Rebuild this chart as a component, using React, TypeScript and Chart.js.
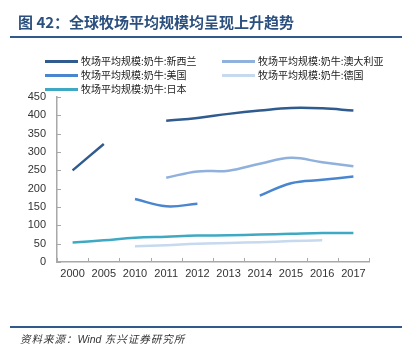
import React, { useEffect, useRef } from "react";
import { Chart, registerables } from "chart.js";

Chart.register(...registerables);

const categories = ["2000", "2005", "2010", "2011", "2012", "2013", "2014", "2015", "2016", "2017"];
const newZealand = [250, 322, null, 385, 393, 404, 413, 420, 419, 413];
const australia = [null, null, null, 230, 247, 249, 268, 284, 272, 261];
const usa = [null, null, 172, 152, 159, null, 181, 215, 224, 233];
const germany = [null, null, 43, 46, 50, 52, 54, 57, 59, null];
const japan = [53, 59, 66, 69, 72, 73, 75, 77, 79, 79];
const yTicks = { min: 0, max: 450, step: 50 };

const seriesNames = [
  "牧场平均规模:奶牛:新西兰",
  "牧场平均规模:奶牛:澳大利亚",
  "牧场平均规模:奶牛:美国",
  "牧场平均规模:奶牛:德国",
  "牧场平均规模:奶牛:日本",
];
const seriesColors = ["#2f5b8f", "#8fb1dc", "#4a86d0", "#c6d9ef", "#3fa9c3"];
const seriesData = [newZealand, australia, usa, germany, japan];

const innerTicks = {
  id: "innerTicks",
  afterDraw(chart: any) {
    const ctx = chart.ctx;
    const x = chart.scales.x;
    const y = chart.scales.y;
    ctx.save();
    ctx.strokeStyle = "#a8a8a8";
    ctx.lineWidth = 1;
    const n = x.ticks.length;
    const w = (x.right - x.left) / n;
    for (let i = 0; i <= n; i++) {
      const px = Math.round(x.left + i * w) + 0.5;
      ctx.beginPath();
      ctx.moveTo(px, y.bottom);
      ctx.lineTo(px, y.bottom - 4);
      ctx.stroke();
    }
    y.ticks.forEach((t: any) => {
      const py = Math.round(y.getPixelForValue(t.value)) + 0.5;
      ctx.beginPath();
      ctx.moveTo(x.left, py);
      ctx.lineTo(x.left + 4, py);
      ctx.stroke();
    });
    ctx.restore();
  },
};

function ChartCanvas() {
  const ref = useRef<HTMLCanvasElement>(null);
  useEffect(() => {
    if (!ref.current) return;
    const chart = new Chart(ref.current, {
      type: "line",
      data: {
        labels: categories,
        datasets: seriesData.map((d, i) => ({
          label: seriesNames[i],
          data: d,
          borderColor: seriesColors[i],
          backgroundColor: seriesColors[i],
          borderWidth: 2.5,
          pointRadius: 0,
          tension: 0.4,
          spanGaps: false,
          fill: false,
        })),
      },
      options: {
        animation: false,
        responsive: false,
        maintainAspectRatio: false,
        layout: { padding: { left: 0, top: 97, right: 49, bottom: 61 } },
        plugins: { legend: { display: false }, tooltip: { enabled: false }, title: { display: false } },
        scales: {
          x: {
            offset: true,
            grid: { display: false, offset: true, drawTicks: false },
            border: { display: true, color: "#a8a8a8", width: 1.5 },
            ticks: {
              color: "#333",
              font: { family: "'Liberation Sans', Arial", size: 11 },
              padding: 5,
              maxRotation: 0,
              autoSkip: false,
            },
            afterFit: (s: any) => {
              s.height = 25;
            },
          },
          y: {
            min: yTicks.min,
            max: yTicks.max,
            grid: { display: false, drawTicks: false },
            border: { display: true, color: "#a8a8a8", width: 1.5 },
            ticks: {
              stepSize: yTicks.step,
              color: "#333",
              font: { family: "'Liberation Sans', Arial", size: 11 },
              padding: 11,
            },
            afterFit: (s: any) => {
              s.width = 57;
            },
          },
        },
      },
      plugins: [innerTicks],
    });
    return () => chart.destroy();
  }, []);
  return <canvas ref={ref} width={418} height={348} style={{ position: "absolute", left: 0, top: 0, width: 418, height: 348 }} />;
}

export default function App() {
  const legendPos = [
    { x: 45, y: 61 },
    { x: 222, y: 61 },
    { x: 45, y: 75 },
    { x: 222, y: 75 },
    { x: 45, y: 89 },
  ];
  return (
    <div style={{ position: "fixed", left: 0, top: 0, width: 418, height: 348, background: "#fff", overflow: "hidden" }}>
      <ChartCanvas />
      <div
        style={{
          position: "absolute",
          left: 18,
          top: 12,
          fontFamily: "'Noto Sans CJK SC', sans-serif",
          fontWeight: 700,
          fontSize: 15,
          lineHeight: "20px",
          color: "#2b4f7e",
          whiteSpace: "nowrap",
        }}
      >
        图 42：全球牧场平均规模均呈现上升趋势
      </div>
      <div style={{ position: "absolute", left: 10, top: 36, width: 392, height: 2, background: "#2f5a8a" }} />
      {seriesNames.map((name, i) => (
        <div key={name} style={{ position: "absolute", left: legendPos[i].x, top: legendPos[i].y - 7, height: 14, display: "flex", alignItems: "center", whiteSpace: "nowrap" }}>
          <div style={{ width: 33, height: 3, background: seriesColors[i], marginRight: 3 }} />
          <span style={{ fontFamily: "'Noto Sans CJK SC', sans-serif", fontSize: 10, color: "#222", lineHeight: "14px" }}>{name}</span>
        </div>
      ))}
      <div style={{ position: "absolute", left: 10, top: 326, width: 392, height: 1.5, background: "#2f5a8a" }} />
      <div
        style={{
          position: "absolute",
          left: 20,
          top: 332,
          fontFamily: "'Noto Sans CJK SC', 'Liberation Sans', sans-serif",
          fontStyle: "italic",
          fontSize: 10.5,
          lineHeight: "14px",
          color: "#333",
          whiteSpace: "nowrap",
          letterSpacing: 1,
        }}
      >
        资料来源：<span style={{ fontFamily: "'Liberation Sans', Arial", letterSpacing: 0 }}>Wind</span> 东兴证券研究所
      </div>
    </div>
  );
}
